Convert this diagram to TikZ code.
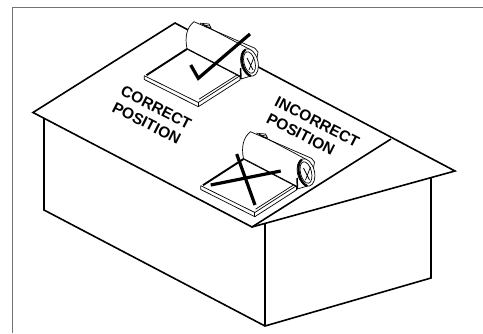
\documentclass[tikz,border=0pt]{standalone}
\usepackage{fontspec}
\setmainfont{Liberation Sans}
\tikzset{
 house/.style={line width=1.6pt,line join=miter},
 thin part/.style={line width=0.7pt},
 mark line/.style={line width=3.2pt},
 roof label/.style={font=\bfseries\fontsize{15.5}{18.5}\selectfont,rotate=-27,align=left,inner sep=0pt}
}
\newcommand{\collector}{%
 % panel
 \draw[thin part,line join=round] (144.3,75.7)--(144.3,79.5)--(198.3,106.7)--(240,80)--(240,75.7);
 \draw[thin part] (198.3,101.7)--(198.3,106.7);
 \draw[thin part] (144.3,75.7)--(198.3,102.5)--(240,75.7);
 \draw[thin part] (199,99.2)--(237,75);
 \draw[line width=1.9pt] (146.5,75.2)--(187,49);
 \draw[line width=1.9pt] (187,48.5)--(240,76);
 % collector drum
 \draw[thin part,fill=white] (187,48.5) .. controls (184.5,37) and (187,27) .. (194,21.7)--(255,48.3)--(258,52)--(254,75)--(241,79) -- (240,76) -- cycle;
 \draw[thin part] (200,23) -- (250,49.5);
 \draw[thin part] (202.5,23.5)--(209,24)--(211,28)--(206,27)--cycle;
 \draw[thin part] (204,25)--(209,26);
 % end cap
 \begin{scope}[shift={(249.5,62.5)},rotate=14]
  \draw[thin part,fill=white] (0,0) ellipse (8.5 and 14);
  \draw[line width=2.2pt] (-1,-13.5) .. controls (-9,-10) and (-9,9) .. (-2,13.5);
  \draw[thin part] (0,0) ellipse (5.5 and 11);
 \end{scope}
 \draw[thin part] (247,58)--(253,70) (254,57)--(249,70);
 \draw[line width=1.5pt] (241,79)--(240.5,68);
}
\begin{document}
\begin{tikzpicture}[x=1pt,y=-1pt]
\useasboundingbox (0,0) rectangle (483,333);
\draw[line width=1.3pt,black!55] (12.3,333)--(12.3,7.7)--(483,7.7);
% roof and walls
\draw[house] (175,23)--(33,112.5)--(252,227)--(455,171)--cycle;
\draw[house] (391,139)--(252,227);
\draw[house] (44,119)--(44,210)--(265,326)--(431,278)--(431,177);
\draw[house] (265,223.5)--(265,326);
% collectors
\collector
\begin{scope}[shift={(56.5,110)}]\collector\end{scope}
% marks
\draw[mark line] (190.7,65)--(198.3,78.3)--(250,34);
\draw[mark line] (236.7,154)--(255,205);
\draw[mark line] (210.7,185)--(280.7,171);
% labels
\node[roof label] (correct) at (152,115.5) {CORRECT\\POSITION};
\node[roof label] (incorrect) at (313,130) {INCORRECT\\POSITION};
\end{tikzpicture}
\end{document}
